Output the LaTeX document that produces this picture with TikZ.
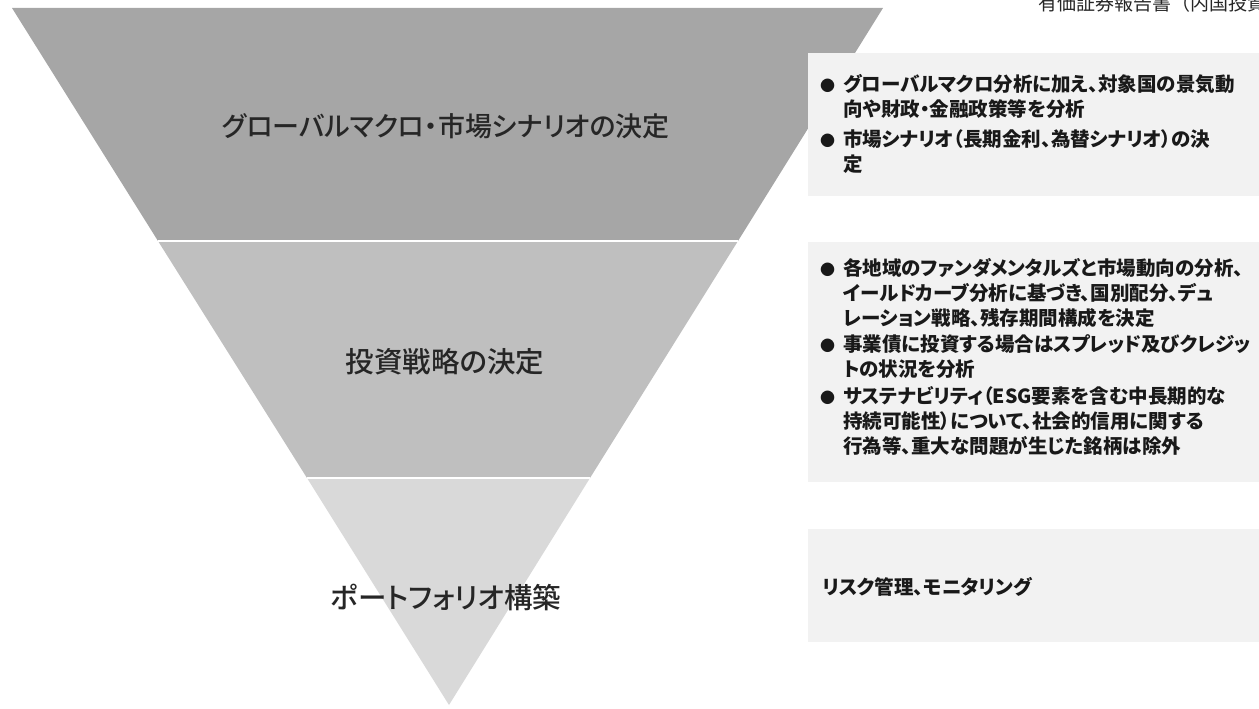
\documentclass[tikz,border=0pt]{standalone}
\usepackage{fontspec}
\newfontfamily\jp{Noto Sans CJK JP}[RawFeature=+palt]
\newfontfamily\jptitle{Noto Sans CJK JP Medium}[RawFeature=+palt]
\newfontfamily\jpfull{Noto Sans CJK JP}
\newcommand\blt{\makebox[23pt][l]{\fontsize{15}{15}\selectfont ●}}
\usetikzlibrary{positioning}

\begin{document}
\begin{tikzpicture}[x=1pt,y=-1pt,
		top/.style={fill=black!35},
		middle/.style={fill=black!25},
		bottom/.style={fill=black!15},
		split/.style={draw=white, line width=1.2pt},
		title/.style={font=\jptitle\fontsize{28.5}{34}\selectfont, text=black!85, inner sep=0pt},
		infobox/.style={fill=black!5, anchor=north west, inner sep=0pt},
		info/.style={anchor=base west, inner sep=0pt, font=\jp\fontsize{19.5}{25}\selectfont\bfseries, text=black!90}]
		
		\useasboundingbox (0,0) rectangle (1259,709);
		
		\coordinate (tl) at (12,8);
		\coordinate (tr) at (883,8);
		\coordinate (l1) at (158,241);
		\coordinate (r1) at (738,241);
		\coordinate (l2) at (307,478);
		\coordinate (r2) at (590,478);
		\coordinate (apex) at (449,705);
		
		\fill[top] (tl) -- (tr) -- (r1) -- (l1) -- cycle;
		\fill[middle] (l1) -- (r1) -- (r2) -- (l2) -- cycle;
		\fill[bottom] (l2) -- (r2) -- (apex) -- cycle;
		\draw[split] (l1) -- (r1);
		\draw[split] (l2) -- (r2);
		
		\node[title, font=\jptitle\fontsize{27}{34}\selectfont] (macro) at (446,126) {グローバルマクロ・市場シナリオの決定};
		\node[title] (strategy) at (445,362) {投資戦略の決定};
		\node[title] (portfolio) at (446,597) {ポートフォリオ構築};
		
		\node[infobox, minimum width=460pt, minimum height=143pt] (box1) at (808,53) {};
		\node[infobox, minimum width=460pt, minimum height=240pt] (box2) at (808,242) {};
		\node[infobox, minimum width=460pt, minimum height=113pt] (box3) at (808,529) {};
		
		\node[info] (txt1) at (820,92) {\begin{tabular}[t]{@{}l@{}}
				\blt グローバルマクロ分析に加え、対象国の景気動\\
				\hspace*{23pt}向や財政・金融政策等を分析\\[5pt]
				\blt 市場シナリオ（長期金利、為替シナリオ）の決\\
				\hspace*{23pt}定
			\end{tabular}};
		\node[info] (txt2) at (820,275) {\begin{tabular}[t]{@{}l@{}}
				\blt 各地域のファンダメンタルズと市場動向の分析、\\
				\hspace*{23pt}イールドカーブ分析に基づき、国別配分、デュ\\
				\hspace*{23pt}レーション戦略、残存期間構成を決定\\[1pt]
				\blt 事業債に投資する場合はスプレッド及びクレジッ\\
				\hspace*{23pt}トの状況を分析\\[2pt]
				\blt サステナビリティ（ESG要素を含む中長期的な\\
				\hspace*{23pt}持続可能性）について、社会的信用に関する\\
				\hspace*{23pt}行為等、重大な問題が生じた銘柄は除外
			\end{tabular}};
		\node[info] (txt3) at (822,594) {リスク管理、モニタリング};
		
		\node[anchor=base west, inner sep=0pt, font=\jpfull\fontsize{19}{20}\selectfont, text=black!85] (header) at (1038,11) {有価証券報告書（内国投資信託受益証券）};
	\end{tikzpicture}
\end{document}
